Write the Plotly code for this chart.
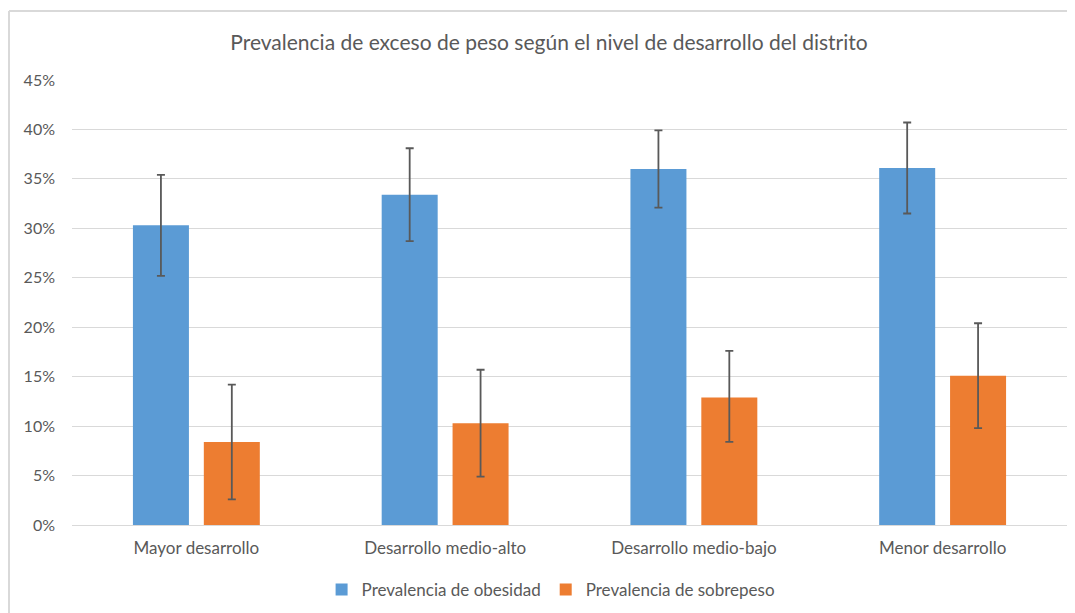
import plotly.graph_objects as go

categories = ["Mayor desarrollo", "Desarrollo medio-alto", "Desarrollo medio-bajo", "Menor desarrollo"]
obesidad = [0.303, 0.334, 0.360, 0.361]
obesidad_err_plus = [0.051, 0.047, 0.039, 0.046]
obesidad_err_minus = [0.051, 0.047, 0.039, 0.046]
sobrepeso = [0.084, 0.103, 0.129, 0.151]
sobrepeso_err_plus = [0.058, 0.054, 0.047, 0.053]
sobrepeso_err_minus = [0.058, 0.054, 0.045, 0.053]
tick_vals = [0, 0.05, 0.10, 0.15, 0.20, 0.25, 0.30, 0.35, 0.40, 0.45]
tick_text = ["0%", "5%", "10%", "15%", "20%", "25%", "30%", "35%", "40%", "45%"]

FONT = "Lato"
GRAY = "#595959"

err_style = dict(type="data", symmetric=False, color="#595959", thickness=1.8, width=4)

fig = go.Figure()
fig.add_trace(go.Bar(
    x=categories, y=obesidad, name="Prevalencia de obesidad",
    marker=dict(color="#5B9BD5", line=dict(width=0)),
    error_y=dict(array=obesidad_err_plus, arrayminus=obesidad_err_minus, **err_style),
))
fig.add_trace(go.Bar(
    x=categories, y=sobrepeso, name="Prevalencia de sobrepeso",
    marker=dict(color="#ED7D31", line=dict(width=0)),
    error_y=dict(array=sobrepeso_err_plus, arrayminus=sobrepeso_err_minus, **err_style),
))

# page body has an 8px margin; figure is made taller than the window so the legend never pushes margins
H = 640
fig.update_layout(
    width=1067, height=H,
    margin=dict(l=64, r=8, t=72, b=H + 8 - 525),
    paper_bgcolor="white", plot_bgcolor="white",
    barmode="group", bargap=0.43, bargroupgap=0.21,
    font=dict(family=FONT, color=GRAY, size=16),
    title=dict(text="Prevalencia de exceso de peso según el nivel de desarrollo del distrito",
               x=0.507, xanchor="center", y=1 - 35 / H, yanchor="middle",
               font=dict(family=FONT, size=21, color=GRAY)),
    legend=dict(orientation="h", x=0.481, xanchor="center", y=-0.146, yanchor="middle",
                font=dict(family=FONT, size=17, color=GRAY), itemwidth=30,
                traceorder="normal"),
    showlegend=True,
)
fig.update_yaxes(range=[0, 0.45], tickvals=tick_vals, ticktext=tick_text,
                 showgrid=True, gridcolor="#D9D9D9", gridwidth=1.3,
                 zeroline=True, zerolinecolor="#D9D9D9", zerolinewidth=1.3,
                 showline=False, ticks="", ticklabelstandoff=16,
                 tickfont=dict(family=FONT, size=16, color=GRAY), fixedrange=True)
fig.update_xaxes(showline=False, ticks="", showgrid=False,
                 tickfont=dict(family=FONT, size=17, color=GRAY), ticklabelstandoff=11)

# outer chart border (top and left visible)
fig.add_shape(type="line", xref="paper", yref="paper", x0=-0.0633, x1=1.02, y0=1.155, y1=1.155,
              line=dict(color="#D9D9D9", width=2))
fig.add_shape(type="line", xref="paper", yref="paper", x0=-0.0633, x1=-0.0633, y0=1.155, y1=-0.3,
              line=dict(color="#D9D9D9", width=2))

fig.write_html("out.html")
